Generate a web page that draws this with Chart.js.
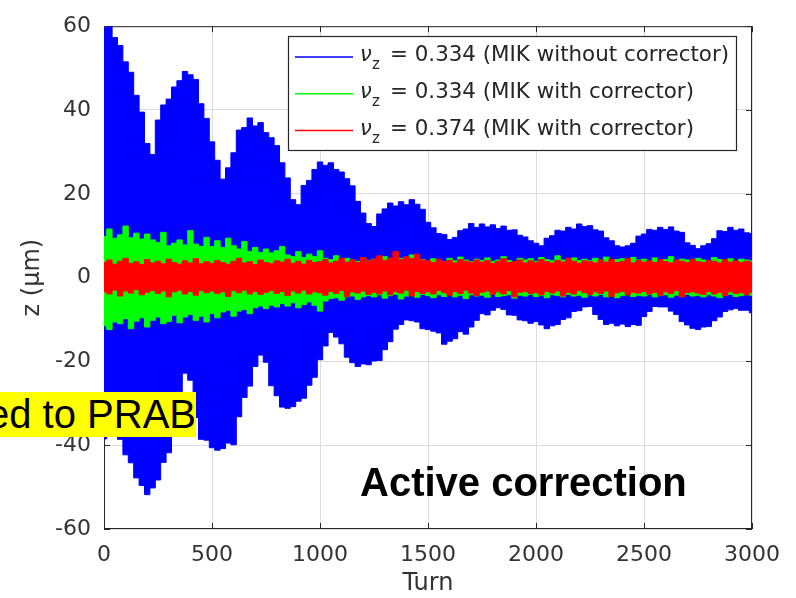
<!DOCTYPE html>
<html>
<head>
<meta charset="utf-8">
<script src="https://cdn.jsdelivr.net/npm/chart.js@4.4.1/dist/chart.umd.min.js"></script>
<style>
  html, body { margin: 0; padding: 0; background: #fff; }
  #wrap { position: relative; width: 796px; height: 598px; }
  #chart { position: absolute; left: 0; top: 0; }
  .note { position: absolute; font-family: "Liberation Sans", Arial, sans-serif; color: #000; white-space: nowrap; }
  #prab { left: 0; top: 392px; width: 196px; height: 45px; background: #ffff00; overflow: hidden;
          display: flex; justify-content: flex-end; font-size: 40px; line-height: 45px; }
  #prab span { flex: 0 0 auto; }
  #active { left: 360px; top: 462px; font-size: 40px; line-height: 40px; font-weight: bold; }
</style>
</head>
<body>
<div id="wrap">
  <canvas id="chart" width="796" height="598"></canvas>
  <div class="note" id="prab"><span>ed to PRAB</span></div>
  <div class="note" id="active">Active correction</div>
</div>
<script>
// envelope of each signal, read every 25 turns
const turns = Array.from({ length: 121 }, (_, i) => i * 25);

const blueUpper = [
  59.6, 60.0, 57.3, 55.4, 51.5, 49.0, 43.5, 39.5, 32.0, 29.4,
  37.6, 41.2, 42.6, 45.5, 47.0, 49.2, 48.4, 47.3, 41.5, 38.0,
  32.4, 28.0, 23.5, 26.2, 29.8, 35.2, 35.8, 38.1, 36.2, 37.0,
  34.6, 33.4, 31.5, 27.4, 23.8, 18.6, 17.4, 22.0, 23.2, 25.8,
  27.6, 26.8, 27.4, 25.8, 25.2, 23.6, 21.9, 18.2, 15.4, 12.9,
  12.2, 15.2, 16.4, 17.8, 17.1, 18.1, 17.4, 18.6, 17.5, 16.3,
  13.2, 11.9, 10.5, 10.3, 9.1, 9.6, 11.2, 11.6, 12.9, 12.0,
  12.8, 12.1, 12.6, 11.7, 12.3, 11.3, 11.4, 10.1, 9.7, 8.8,
  8.2, 7.6, 9.4, 10.0, 11.3, 11.1, 12.0, 11.6, 12.8, 12.2,
  12.4, 11.4, 11.1, 9.5, 8.8, 7.6, 7.3, 7.6, 8.2, 9.9,
  10.4, 11.5, 11.3, 12.0, 11.5, 12.1, 11.1, 10.8, 8.3, 7.7,
  6.9, 7.6, 8.1, 9.3, 11.2, 11.0, 12.0, 11.3, 11.6, 10.7,
  10.5
];
const blueLower = [
  -38.5, -37.5, -37.6, -38.6, -42.3, -44.2, -47.8, -49.6, -51.8, -50.2,
  -48.3, -44.1, -41.8, -36.6, -27.2, -22.8, -24.5, -33.4, -38.6, -38.8,
  -40.6, -41.2, -40.8, -39.5, -39.9, -33.2, -28.6, -25.9, -21.2, -18.5,
  -20.2, -25.8, -28.2, -30.9, -31.2, -30.8, -29.5, -28.8, -25.7, -23.8,
  -19.6, -16.3, -13.1, -14.2, -15.8, -19.0, -20.3, -21.2, -20.6, -20.8,
  -19.9, -19.8, -17.2, -15.3, -12.3, -11.2, -10.1, -10.3, -10.6, -12.2,
  -12.4, -12.8, -13.2, -15.9, -15.2, -14.6, -12.9, -13.5, -11.8, -10.2,
  -8.6, -8.9, -7.8, -7.2, -7.6, -8.9, -9.0, -10.1, -10.3, -10.9,
  -10.5, -11.3, -12.2, -11.5, -11.2, -10.0, -9.6, -8.1, -7.9, -7.0,
  -6.9, -8.8, -10.0, -11.2, -10.9, -11.5, -11.1, -11.7, -11.2, -11.4,
  -9.3, -8.1, -6.9, -7.0, -7.0, -8.0, -8.8, -10.5, -11.3, -12.1,
  -12.4, -11.8, -11.7, -10.3, -9.4, -8.1, -7.7, -7.4, -7.8, -7.8,
  -8.4
];
const greenUpper = [
  9.8, 11.6, 9.4, 10.2, 12.3, 9.5, 10.6, 9.2, 10.4, 9.0,
  8.4, 10.8, 7.6, 8.2, 9.0, 7.8, 11.2, 8.0, 7.4, 9.6,
  7.4, 8.8, 7.2, 9.4, 7.6, 6.8, 8.6, 6.2, 7.2, 6.0,
  6.8, 5.9, 6.4, 7.4, 5.4, 5.0, 6.2, 4.8, 5.6, 5.0,
  6.4, 4.6, 4.3, 5.2, 4.0, 4.6, 4.2, 3.9, 4.8, 4.1,
  4.4, 3.8, 5.0, 4.2, 3.9, 4.6, 4.1, 5.4, 4.0, 4.3,
  3.9, 4.5, 4.1, 3.8, 4.6, 4.0, 4.9, 4.2, 3.8, 4.4,
  4.1, 4.7, 3.9, 4.2, 5.0, 4.1, 3.8, 4.6, 4.2, 4.5,
  3.9, 4.8, 4.3, 4.0, 5.2, 4.2, 3.9, 4.7, 4.1, 4.4,
  4.0, 4.6, 4.2, 4.9, 3.8, 4.3, 4.5, 4.0, 4.8, 4.2,
  4.4, 3.9, 4.7, 4.1, 4.3, 5.0, 4.0, 4.4, 4.2, 3.9,
  4.6, 4.2, 4.0, 4.8, 4.3, 4.1, 4.5, 3.9, 4.4, 4.2,
  4.0
];
const greenLower = [
  -11.5, -12.4, -10.6, -11.0, -9.8, -12.2, -10.4, -9.6, -11.8, -10.2,
  -9.4, -11.0, -10.5, -9.0, -10.8, -9.4, -8.8, -10.2, -9.2, -10.6,
  -8.6, -9.6, -8.2, -7.8, -9.2, -8.0, -7.6, -8.6, -7.2, -6.8,
  -7.4, -6.6, -7.0, -6.2, -6.8, -6.0, -7.2, -6.4, -5.8, -6.6,
  -8.0, -5.6, -5.0, -4.8, -5.4, -4.6, -4.4, -5.2, -4.6, -4.3,
  -4.6, -4.1, -4.9, -4.3, -4.0, -5.1, -4.4, -4.2, -4.7, -4.0,
  -4.3, -4.8, -4.1, -4.5, -4.0, -4.6, -4.2, -5.0, -4.1, -4.4,
  -4.2, -4.7, -4.0, -4.5, -4.3, -4.1, -4.9, -4.2, -4.4, -4.0,
  -4.5, -4.2, -4.8, -4.1, -4.3, -4.6, -4.0, -4.4, -4.2, -4.7,
  -4.1, -4.4, -4.0, -4.6, -4.2, -4.8, -4.3, -4.1, -4.5, -4.2,
  -4.4, -4.0, -4.6, -4.3, -4.1, -4.7, -4.2, -4.5, -4.0, -4.4,
  -4.2, -4.6, -4.1, -4.4, -4.8, -4.2, -4.0, -4.5, -4.3, -4.1,
  -4.2
];
const redUpper = [
  3.6, 4.2, 3.2, 3.9, 4.6, 3.4, 3.8, 3.1, 4.3, 3.5,
  3.9, 3.3, 4.4, 3.6, 3.2, 4.0, 3.5, 4.5, 3.3, 3.8,
  3.4, 4.1, 3.6, 3.2, 3.9, 4.6, 3.5, 3.8, 3.1, 4.2,
  3.6, 3.3, 4.0, 3.7, 4.4, 3.4, 3.9, 3.2, 4.1, 3.6,
  3.8, 4.3, 3.5, 3.9, 4.6, 3.7, 4.2, 3.6, 4.8, 4.0,
  4.4, 5.2, 4.1, 4.7, 6.2, 4.3, 5.0, 4.5, 5.6, 4.2,
  4.0, 3.6, 4.4, 3.8, 4.1, 3.5, 4.3, 3.9, 3.6, 4.2,
  3.7, 4.1, 3.4, 3.9, 4.5, 3.6, 3.8, 4.2, 3.5, 4.0,
  3.6, 4.3, 3.8, 3.5, 4.1, 3.7, 4.6, 3.9, 3.4, 4.0,
  3.8, 3.5, 4.2, 3.7, 4.4, 3.6, 3.9, 4.5, 3.5, 4.1,
  3.7, 4.0, 3.6, 4.3, 3.8, 3.5, 4.2, 3.9, 3.6, 4.4,
  3.8, 3.6, 4.1, 3.9, 3.5, 4.3, 3.7, 4.0, 3.6, 3.9,
  3.7
];
const redLower = [
  -3.4, -3.9, -3.0, -4.4, -3.2, -3.7, -2.9, -4.1, -3.5, -3.1,
  -3.8, -3.2, -4.6, -3.4, -3.0, -3.9, -3.3, -4.2, -3.1, -3.6,
  -3.2, -3.8, -3.4, -4.5, -3.1, -3.6, -3.0, -3.9, -3.3, -4.0,
  -3.5, -3.1, -3.8, -3.3, -4.3, -3.2, -3.7, -3.0, -3.9, -3.4,
  -3.6, -4.2, -3.3, -3.8, -3.1, -4.5, -3.4, -3.7, -3.2, -4.0,
  -3.5, -3.9, -3.2, -4.1, -3.4, -3.7, -3.0, -4.4, -3.3, -3.8,
  -3.4, -3.9, -3.1, -3.6, -4.2, -3.3, -3.8, -3.0, -3.7, -4.3,
  -3.5, -3.2, -4.0, -3.4, -3.9, -3.1, -4.6, -3.5, -3.3, -3.8,
  -3.6, -4.1, -3.3, -3.7, -3.2, -4.4, -3.5, -3.9, -3.1, -3.6,
  -4.0, -3.4, -3.8, -3.2, -4.5, -3.6, -3.3, -4.1, -3.5, -3.7,
  -3.3, -3.9, -3.5, -4.2, -3.4, -3.8, -3.1, -4.6, -3.6, -3.4,
  -3.7, -4.0, -3.3, -3.9, -3.5, -4.3, -3.4, -3.8, -3.6, -4.1,
  -3.5
];

const seriesLabels = [
  "= 0.334 (MIK without corrector)",
  "= 0.334 (MIK with corrector)",
  "= 0.374 (MIK with corrector)"
];
const xTicks = [0, 500, 1000, 1500, 2000, 2500, 3000];
const yTicks = [-60, -40, -20, 0, 20, 40, 60];

const BLUE = "#0000ff", GREEN = "#00ff00", RED = "#ff0000";
const TXT = "#333333";
const FONT = "'DejaVu Sans', sans-serif";

function band(vals, color, fill, order, label) {
  return {
    label,
    data: turns.map((t, i) => ({ x: t, y: vals[i] })),
    borderColor: color,
    backgroundColor: color,
    borderWidth: 1,
    pointRadius: 0,
    stepped: "middle",
    fill,
    order
  };
}

// axes box with inward tick marks (drawn under the data, like MATLAB)
const frame = {
  id: "frame",
  beforeDatasetsDraw(chart) {
    const { ctx, chartArea: a, scales: { x, y } } = chart;
    ctx.save();
    ctx.strokeStyle = "#262626";
    ctx.lineWidth = 1;
    ctx.beginPath();
    xTicks.forEach(v => {
      const px = Math.round(x.getPixelForValue(v)) + 0.5;
      ctx.moveTo(px, a.top); ctx.lineTo(px, a.top + 6);
      ctx.moveTo(px, a.bottom); ctx.lineTo(px, a.bottom - 6);
    });
    yTicks.forEach(v => {
      const py = Math.round(y.getPixelForValue(v)) + 0.5;
      ctx.moveTo(a.left, py); ctx.lineTo(a.left + 6, py);
      ctx.moveTo(a.right, py); ctx.lineTo(a.right - 6, py);
    });
    ctx.stroke();
    ctx.strokeRect(a.left + 0.5, a.top + 0.5, a.right - a.left - 1, a.bottom - a.top - 1);
    ctx.restore();
  }
};

// legend box with a subscripted nu_z, drawn from the dataset colours
const nuLegend = {
  id: "nuLegend",
  afterDatasetsDraw(chart) {
    const { ctx } = chart;
    const colors = [BLUE, GREEN, RED];
    ctx.save();
    ctx.fillStyle = "#fff";
    ctx.fillRect(288, 36, 448, 114);
    ctx.strokeStyle = "#262626";
    ctx.lineWidth = 1.2;
    ctx.strokeRect(288.5, 36.5, 448, 114);
    seriesLabels.forEach((lab, i) => {
      const ly = 57 + i * 36.8;
      ctx.strokeStyle = colors[i];
      ctx.lineWidth = 1.5;
      ctx.beginPath();
      ctx.moveTo(295, ly); ctx.lineTo(353, ly);
      ctx.stroke();
      const base = 61 + i * 36.8;
      ctx.fillStyle = "#262626";
      ctx.textBaseline = "alphabetic";
      ctx.textAlign = "left";
      ctx.font = "italic 21px " + FONT;
      ctx.fillText("ν", 360, base);
      ctx.font = "15px " + FONT;
      ctx.fillText("z", 372, base + 8);
      ctx.font = "21.4px " + FONT;
      ctx.fillText(lab, 390, base);
    });
    ctx.restore();
  }
};

new Chart(document.getElementById("chart"), {
  type: "line",
  data: {
    datasets: [
      band(blueUpper, BLUE, "+1", 2, seriesLabels[0]),
      band(blueLower, BLUE, false, 2),
      band(greenUpper, GREEN, "+1", 1, seriesLabels[1]),
      band(greenLower, GREEN, false, 1),
      band(redUpper, RED, "+1", 0, seriesLabels[2]),
      band(redLower, RED, false, 0)
    ]
  },
  options: {
    responsive: false,
    animation: false,
    devicePixelRatio: 1,
    layout: { padding: { top: 20, right: 44, bottom: 0, left: 0 } },
    plugins: { legend: { display: false }, tooltip: { enabled: false } },
    scales: {
      x: {
        type: "linear",
        min: 0,
        max: 3000,
        afterBuildTicks: s => { s.ticks = xTicks.map(v => ({ value: v })); },
        afterFit: s => { s.height = 69; },
        ticks: { autoSkip: false, maxRotation: 0, color: TXT, padding: 13, font: { family: FONT, size: 22 },
                 callback: v => String(v) },
        grid: { color: "#dcdcdc", drawTicks: false },
        border: { display: false },
        title: { display: true, text: "Turn", color: TXT, padding: { top: 0, bottom: 0 }, font: { family: FONT, size: 24 } }
      },
      y: {
        min: -60,
        max: 60,
        afterBuildTicks: s => { s.ticks = yTicks.map(v => ({ value: v })); },
        afterFit: s => { s.width = 104; },
        ticks: { color: TXT, padding: 13, font: { family: FONT, size: 22 }, callback: v => String(v) },
        grid: { color: "#dcdcdc", drawTicks: false },
        border: { display: false },
        title: { display: true, text: "z (μm)", color: TXT, padding: { top: 18, bottom: 0 }, font: { family: FONT, size: 24 } }
      }
    }
  },
  plugins: [frame, nuLegend]
});
</script>
</body>
</html>
